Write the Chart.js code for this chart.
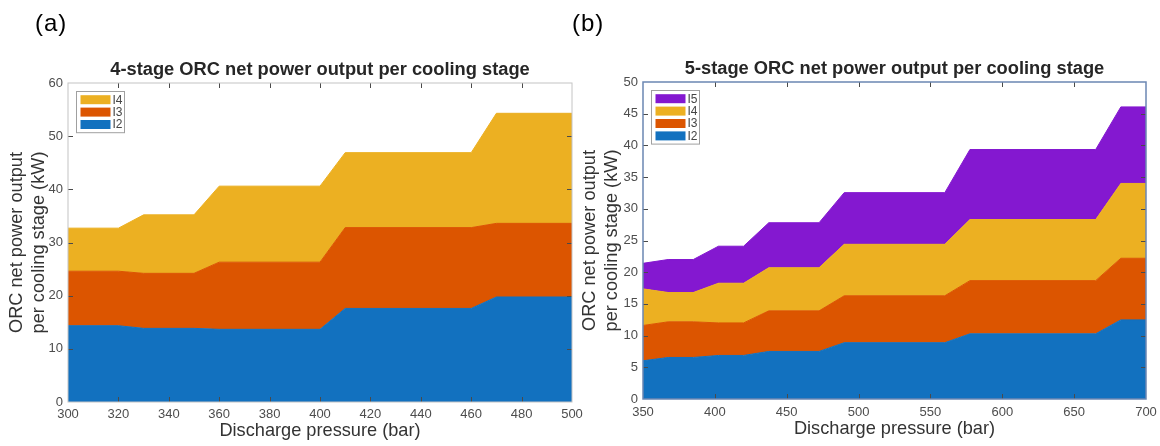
<!DOCTYPE html>
<html>
<head>
<meta charset="utf-8">
<script src="https://cdn.jsdelivr.net/npm/chart.js@4.4.1/dist/chart.umd.min.js"></script>
<style>
  body { margin: 0; background: #fff; }
  #wrap { position: relative; width: 1160px; height: 446px; overflow: hidden; }
  #ca { position: absolute; left: 0; top: 0; }
  #cb { position: absolute; left: 560px; top: 0; }
</style>
</head>
<body>
<div id="wrap">
  <canvas id="ca" width="600" height="446"></canvas>
  <canvas id="cb" width="615" height="446"></canvas>
</div>
<script>
// (a) 4-stage ORC
var pressA = [300, 320, 330, 350, 360, 400, 410, 460, 470, 500];
var a_I2 = [14.35, 14.35, 13.85, 13.85, 13.67, 13.67, 17.6, 17.6, 19.75, 19.75];
var a_I3 = [10.25, 10.25, 10.35, 10.35, 12.63, 12.63, 15.2, 15.2, 13.85, 13.85];
var a_I4 = [8.1, 8.1, 11.0, 11.0, 14.3, 14.3, 14.1, 14.1, 20.7, 20.7];
// (b) 5-stage ORC
var pressB = [350, 367.5, 385, 402.5, 420, 437.5, 472.5, 490, 560, 577.5, 665, 682.5, 700];
var b_I2 = [6.03, 6.55, 6.55, 6.87, 6.87, 7.5, 7.5, 8.88, 8.88, 10.28, 10.28, 12.48, 12.48];
var b_I3 = [5.57, 5.62, 5.62, 5.13, 5.13, 6.4, 6.4, 7.4, 7.4, 8.39, 8.39, 9.72, 9.72];
var b_I4 = [5.77, 4.63, 4.63, 6.26, 6.26, 6.8, 6.8, 8.12, 8.12, 9.63, 9.63, 11.8, 11.8];
var b_I5 = [4.03, 5.2, 5.2, 5.84, 5.84, 7.1, 7.1, 8.15, 8.15, 11.05, 11.05, 12.07, 12.07];

var colors = { I2: '#1271bf', I3: '#dc5500', I4: '#ecb022', I5: '#8418d0' };
var FONT = '"Liberation Sans", Arial, sans-serif';

function pts(xs, ys) {
    return xs.map((x, i) => ({ x: x, y: ys[i] }));
}
function ds(label, xs, ys, first) {
    return {
        label: label,
        data: pts(xs, ys),
        backgroundColor: colors[label],
        borderColor: colors[label],
        borderWidth: 1,
        pointRadius: 0,
        fill: first ? 'origin' : '-1',
        tension: 0
    };
}

// frame, inward ticks, legend box, title and panel letter
var decor = {
    id: 'decor',
    afterDatasetsDraw(chart, args, o) {
        var ctx = chart.ctx, a = chart.chartArea;
        var xs = chart.scales.x, ys = chart.scales.y;
        ctx.save();
        ctx.strokeStyle = '#4a4a4a';
        ctx.lineWidth = 1;
        ctx.beginPath();
        xs.ticks.forEach(t => {
            var px = Math.round(xs.getPixelForValue(t.value)) + 0.5;
            if (px < a.left + 2 || px > a.right - 2) return;
            ctx.moveTo(px, a.top); ctx.lineTo(px, a.top + 5);
            ctx.moveTo(px, a.bottom); ctx.lineTo(px, a.bottom - 5);
        });
        ys.ticks.forEach(t => {
            var py = Math.round(ys.getPixelForValue(t.value)) + 0.5;
            if (py < a.top + 2 || py > a.bottom - 2) return;
            ctx.moveTo(a.left, py); ctx.lineTo(a.left + 5, py);
            ctx.moveTo(a.right, py); ctx.lineTo(a.right - 5, py);
        });
        ctx.stroke();
        // frame
        ctx.strokeStyle = o.frame;
        ctx.lineWidth = o.frameWidth;
        ctx.strokeRect(a.left, a.top, a.right - a.left, a.bottom - a.top);
        // legend
        var items = chart.data.datasets.slice().reverse();
        var bx = a.left + 8.5, by = a.top + 8.5, bw = 48, pitch = 12.4;
        var bh = items.length * pitch + 4;
        ctx.fillStyle = '#fff';
        ctx.fillRect(bx, by, bw, bh);
        ctx.strokeStyle = '#a0a0a0';
        ctx.lineWidth = 1;
        ctx.strokeRect(bx, by, bw, bh);
        ctx.font = '12px ' + FONT;
        ctx.textAlign = 'left';
        ctx.textBaseline = 'middle';
        items.forEach((d, i) => {
            var cy = by + 2 + pitch * i + pitch / 2;
            ctx.fillStyle = d.backgroundColor;
            ctx.fillRect(bx + 4, cy - 4.5, 30, 9);
            ctx.fillStyle = '#444';
            ctx.fillText(d.label, bx + 36, cy + 0.5);
        });
        // title
        ctx.font = 'bold 18.3px ' + FONT;
        ctx.fillStyle = '#262626';
        ctx.textAlign = 'center';
        ctx.fillText(o.title, (a.left + a.right) / 2, a.top - 13);
        // panel letter
        ctx.font = '24px ' + FONT;
        ctx.letterSpacing = '1px';
        ctx.fillStyle = '#000';
        ctx.textAlign = 'left';
        ctx.fillText(o.panel, o.panelX, 24);
        ctx.restore();
    }
};

function makeChart(id, datasets, cfg) {
    return new Chart(document.getElementById(id), {
        type: 'line',
        data: { datasets: datasets },
        plugins: [decor],
        options: {
            responsive: false,
            animation: false,
            layout: { padding: { left: 0, top: cfg.top, right: cfg.right, bottom: 0 } },
            plugins: {
                legend: { display: false },
                tooltip: { enabled: false },
                decor: { title: cfg.title, panel: cfg.panel, panelX: cfg.panelX, frame: cfg.frame, frameWidth: cfg.frameWidth }
            },
            scales: {
                x: {
                    type: 'linear',
                    min: cfg.xmin, max: cfg.xmax,
                    grid: { display: false, drawTicks: false },
                    border: { display: false },
                    ticks: { stepSize: cfg.xstep, padding: cfg.xtickPad, color: '#4d4d4d', font: { family: FONT, size: 13 }, maxRotation: 0, autoSkip: false },
                    title: { display: true, text: 'Discharge pressure (bar)', color: '#333', font: { family: FONT, size: 18.2, lineHeight: 1.2 }, padding: { top: 0, bottom: cfg.xtitlePad } },
                    afterFit: s => { s.height = cfg.xh; }
                },
                y: {
                    stacked: true,
                    min: 0, max: cfg.ymax,
                    grid: { display: false, drawTicks: false },
                    border: { display: false },
                    ticks: { stepSize: cfg.ystep, padding: 5, color: '#4d4d4d', font: { family: FONT, size: 13 } },
                    title: { display: true, text: ['ORC net power output', 'per cooling stage (kW)'], color: '#333', font: { family: FONT, size: 18.2, lineHeight: 1.2 }, padding: { top: cfg.ytitlePad, bottom: 0 } },
                    afterFit: s => { s.width = cfg.yw; }
                }
            }
        }
    });
}

makeChart('ca', [
    ds('I2', pressA, a_I2, true),
    ds('I3', pressA, a_I3),
    ds('I4', pressA, a_I4)
], {
    title: '4-stage ORC net power output per cooling stage', panel: '(a)', panelX: 35,
    frame: '#c4c4c4', frameWidth: 1,
    top: 83, right: 28, xh: 44, yw: 68,
    xmin: 300, xmax: 500, xstep: 20, ymax: 60, ystep: 10,
    xtickPad: 4.5, xtitlePad: 4, ytitlePad: 6
});

makeChart('cb', [
    ds('I2', pressB, b_I2, true),
    ds('I3', pressB, b_I3),
    ds('I4', pressB, b_I4),
    ds('I5', pressB, b_I5)
], {
    title: '5-stage ORC net power output per cooling stage', panel: '(b)', panelX: 12,
    frame: '#6b87b3', frameWidth: 1.5,
    top: 82, right: 29, xh: 47, yw: 83,
    xmin: 350, xmax: 700, xstep: 50, ymax: 50, ystep: 5,
    xtickPad: 5.5, xtitlePad: 6.6, ytitlePad: 19
});
</script>
</body>
</html>
